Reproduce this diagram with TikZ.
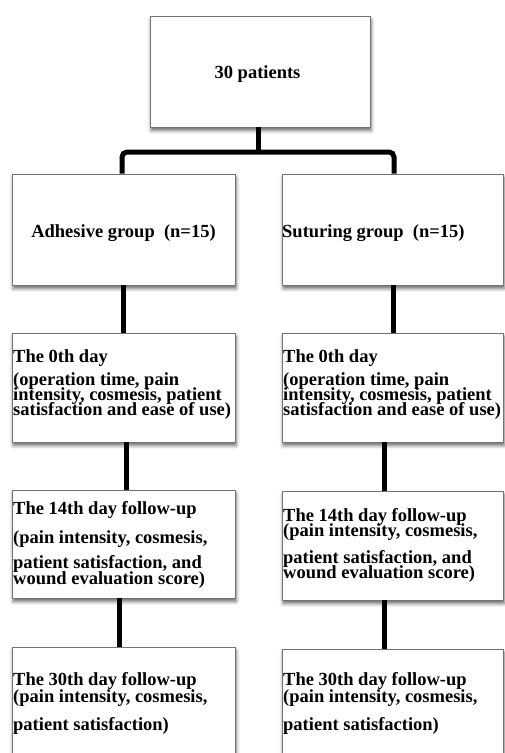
\documentclass[tikz,border=0pt]{standalone}
\usepackage{fontspec}
\setmainfont{Liberation Serif}
\usetikzlibrary{shadows.blur}

\newcommand{\toprow}{\rule{0pt}{13pt}}

\begin{document}
\begin{tikzpicture}[x=1pt, y=-1pt,
    box/.style = {shape=rectangle, draw=black!55, line width=0.8pt,
      fill=white, inner sep=0pt,
      blur shadow={shadow xshift=1pt, shadow yshift=-3.5pt,
        shadow blur radius=3.5pt, shadow opacity=60}},
    txt/.style = {inner sep=0pt, align=left, anchor=north west,
      font={\fontsize{18.5}{15}\selectfont\bfseries\lineskiplimit=-40pt}},
    link/.style = {line width=5pt, black}]
  \useasboundingbox (0,0) rectangle (504,753);

  \node[box, minimum width=220pt, minimum height=111pt] (all) at (260,71.5) {};
  \node[box, minimum width=223pt, minimum height=111pt] (adh) at (123.5,229.5) {};
  \node[box, minimum width=221pt, minimum height=111pt] (sut) at (392.5,229.5) {};
  \node[box, minimum width=223pt, minimum height=109pt] (dayA) at (123.5,387.5) {};
  \node[box, minimum width=221pt, minimum height=109pt] (dayB) at (392.5,387.5) {};
  \node[box, minimum width=223pt, minimum height=108pt] (midA) at (123.5,544) {};
  \node[box, minimum width=221pt, minimum height=109pt] (midB) at (392.5,545.5) {};
  \node[box, minimum width=223pt, minimum height=120pt] (endA) at (123.5,707) {};
  \node[box, minimum width=221pt, minimum height=120pt] (endB) at (392.5,709) {};

  \node[txt, anchor=base] (alltxt) at (257.5,78) {30 patients};
  \node[txt, anchor=base] (adhtxt) at (123.5,237) {Adhesive group~ (n=15)};
  \node[txt, anchor=base west] (suttxt) at (282,237) {Suturing group~ (n=15)};
  \node[txt] (dayAtxt) at (13,349) {\toprow The 0th day\\[8pt]
    (operation time, pain\\ intensity, cosmesis, patient\\
    satisfaction and ease of use)};
  \node[txt] (dayBtxt) at (283,349) {\toprow The 0th day\\[8pt]
    (operation time, pain\\ intensity, cosmesis, patient\\
    satisfaction and ease of use)};
  \node[txt] (midAtxt) at (13,501) {\toprow The 14th day follow-up\\[14pt]
    (pain intensity, cosmesis,\\[10pt] patient satisfaction, and\\[1pt]
    wound evaluation score)};
  \node[txt] (midBtxt) at (283,508) {\toprow The 14th day follow-up\\
    (pain intensity, cosmesis,\\[12pt] patient satisfaction, and\\
    wound evaluation score)};
  \node[txt] (endAtxt) at (13,672) {\toprow The 30th day follow-up\\[2pt]
    (pain intensity, cosmesis,\\[13pt] patient satisfaction)};
  \node[txt] (endBtxt) at (283,672) {\toprow The 30th day follow-up\\[2pt]
    (pain intensity, cosmesis,\\[13pt] patient satisfaction)};

  \coordinate (split) at (258,152);
  \draw[link] ([xshift=-2pt]all.south) -- (split);
  \draw[link, rounded corners=5pt] ([xshift=-1.5pt]adh.north) |- (split)
    -| ([xshift=1.5pt]sut.north);
  \draw[link] ([xshift=-0.5pt]adh.south) -- ([xshift=-0.5pt]adh.south |- dayA.north);
  \draw[link] ([xshift=0.5pt]sut.south) -- ([xshift=0.5pt]sut.south |- dayB.north);
  \draw[link] ([xshift=2.5pt]dayA.south) -- ([xshift=2.5pt]dayA.south |- midA.north);
  \draw[link] ([xshift=-8.5pt]dayB.south) -- ([xshift=-8.5pt]dayB.south |- midB.north);
  \draw[link] ([xshift=-4.5pt]midA.south) -- ([xshift=-4.5pt]midA.south |- endA.north);
  \draw[link] ([xshift=-8.5pt]midB.south) -- ([xshift=-8.5pt]midB.south |- endB.north);
\end{tikzpicture}
\end{document}
